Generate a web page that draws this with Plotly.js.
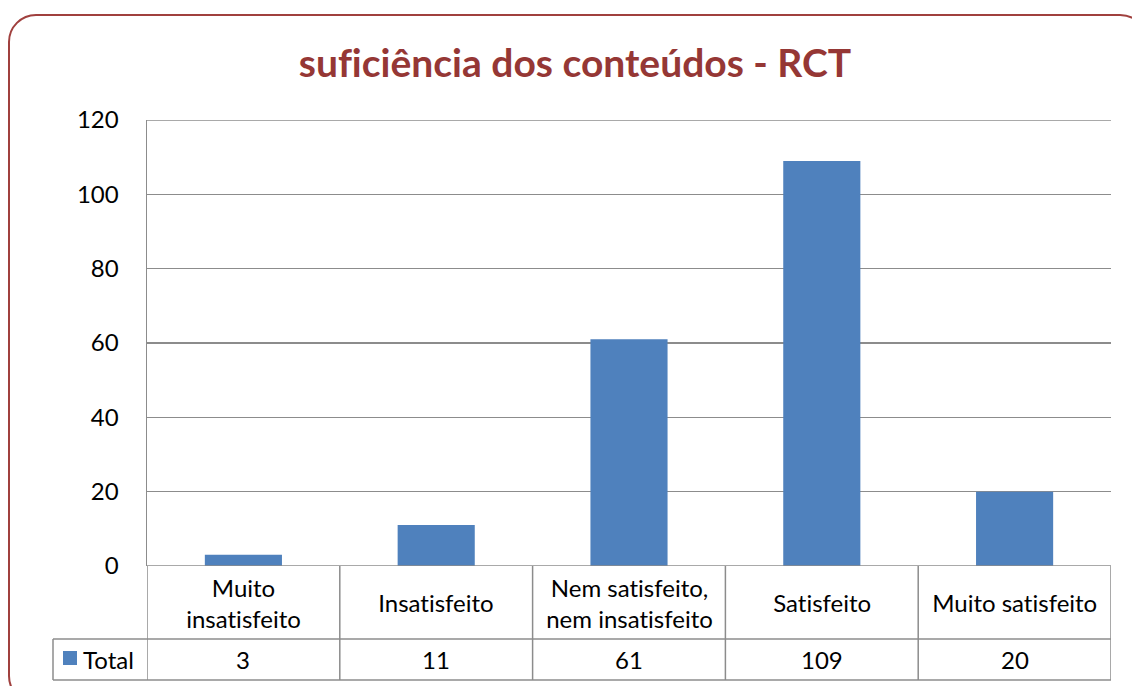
<!DOCTYPE html>
<html>
<head>
<meta charset="utf-8">
<script src="https://cdn.plot.ly/plotly-3.0.1.min.js"></script>
<style>
  html, body { margin: 0; padding: 0; background: #ffffff; }
  #wrap { position: relative; width: 1132px; height: 686px; overflow: hidden; }
  #chart { position: absolute; left: 0; top: 0; width: 1132px; height: 686px; }
  #chart text { font-variant-ligatures: none; font-feature-settings: "liga" 0; }
  #frame { position: absolute; left: 8px; top: 14px; width: 1140px; height: 690px;
           border: 2px solid #A0403E; border-radius: 28px; pointer-events: none; box-sizing: border-box; }
</style>
</head>
<body>
<div id="wrap">
  <div id="chart"></div>
  <div id="frame"></div>
</div>
<script>
// ---- data ----
const categories = ["Muito insatisfeito", "Insatisfeito", "Nem satisfeito, nem insatisfeito", "Satisfeito", "Muito satisfeito"];
const categoryLabels = ["Muito<br>insatisfeito", "Insatisfeito", "Nem satisfeito,<br>nem insatisfeito", "Satisfeito", "Muito satisfeito"];
const totalValues = [3, 11, 61, 109, 20];
const seriesName = "Total";
const yTickValues = [0, 20, 40, 60, 80, 100, 120];
const chartTitle = "suficiência dos conteúdos - RCT";

// ---- layout constants ----
const W = 1132, H = 686;
const mL = 147, mR = 21, mT = 120, mB = 120;
const plotW = W - mL - mR, plotH = H - mT - mB;
const font = "Lato, 'Open Sans', sans-serif";
const gridCol = "#8C8C8C";
const barCol = "#4F81BD";
const txtSize = 24;

function py(pix) { return (H - mB - pix) / plotH; }     // pixel y -> paper y
function px(pix) { return (pix - mL) / plotW; }         // pixel x -> paper x

const row1Bottom = py(639), row2Bottom = py(680);
const tableLeft = px(53);

const shapes = [];
const annotations = [];
const n = categories.length;
// vertical table lines at category boundaries
for (let i = 0; i <= n; i++) {
  shapes.push({type: 'line', xref: 'x', yref: 'paper', x0: i - 0.5, x1: i - 0.5, y0: 0, y1: row2Bottom,
               line: {color: gridCol, width: 1.5}});
}
// top gridline and baseline
[yTickValues[0], yTickValues[yTickValues.length - 1]].forEach(v => {
  shapes.push({type: 'line', xref: 'paper', yref: 'y', x0: 0, x1: 1, y0: v, y1: v, line: {color: gridCol, width: 1.5}});
});
// horizontal table lines
[row1Bottom, row2Bottom].forEach(yv => {
  shapes.push({type: 'line', xref: 'paper', yref: 'paper', x0: tableLeft, x1: 1, y0: yv, y1: yv,
               line: {color: gridCol, width: 1.5}});
});
shapes.push({type: 'line', xref: 'paper', yref: 'paper', x0: tableLeft, x1: tableLeft, y0: row1Bottom, y1: row2Bottom,
             line: {color: gridCol, width: 1.5}});
// legend key
shapes.push({type: 'rect', xref: 'paper', yref: 'paper', x0: px(63), x1: px(77), y0: py(665), y1: py(651),
             fillcolor: barCol, line: {width: 0}});

categories.forEach((c, i) => {
  annotations.push({x: c, y: row1Bottom / 2, xref: 'x', yref: 'paper', text: categoryLabels[i], showarrow: false,
                    xanchor: 'center', yanchor: 'middle', align: 'center',
                    font: {family: font, size: txtSize, color: '#000'}});
  annotations.push({x: c, y: (row1Bottom + row2Bottom) / 2, xref: 'x', yref: 'paper', text: String(totalValues[i]), showarrow: false,
                    xanchor: 'center', yanchor: 'middle',
                    font: {family: font, size: txtSize, color: '#000'}});
});
annotations.push({x: px(81), y: (row1Bottom + row2Bottom) / 2, xref: 'paper', yref: 'paper', text: seriesName, showarrow: false,
                  xanchor: 'left', yanchor: 'middle', font: {family: font, size: txtSize, color: '#000'}});

const data = [{
  type: 'bar', x: categories, y: totalValues, name: seriesName,
  marker: {color: barCol, line: {width: 0}}, hoverinfo: 'x+y'
}];

const layout = {
  width: W, height: H,
  margin: {l: mL, r: mR, t: mT, b: mB, pad: 0},
  paper_bgcolor: '#ffffff', plot_bgcolor: '#ffffff',
  showlegend: false,
  bargap: 0.6,
  title: {text: chartTitle, x: 575 / W, xref: 'container', xanchor: 'center', y: 1 - 63 / H, yref: 'container', yanchor: 'middle',
          font: {family: font, size: 39, color: '#953735', weight: 'bold'}},
  xaxis: {type: 'category', range: [-0.5, n - 0.5], showticklabels: false, ticks: '', showgrid: false,
          showline: false, zeroline: false, fixedrange: true},
  yaxis: {range: [0, 120], tickvals: yTickValues, showgrid: true, gridcolor: gridCol, gridwidth: 1.5,
          showline: true, linecolor: gridCol, linewidth: 1.5, zeroline: false, ticks: '', ticklabelstandoff: 22,
          tickfont: {family: font, size: txtSize, color: '#000'}, fixedrange: true},
  shapes: shapes,
  annotations: annotations
};

Plotly.newPlot('chart', data, layout, {displayModeBar: false, staticPlot: true});
</script>
</body>
</html>
